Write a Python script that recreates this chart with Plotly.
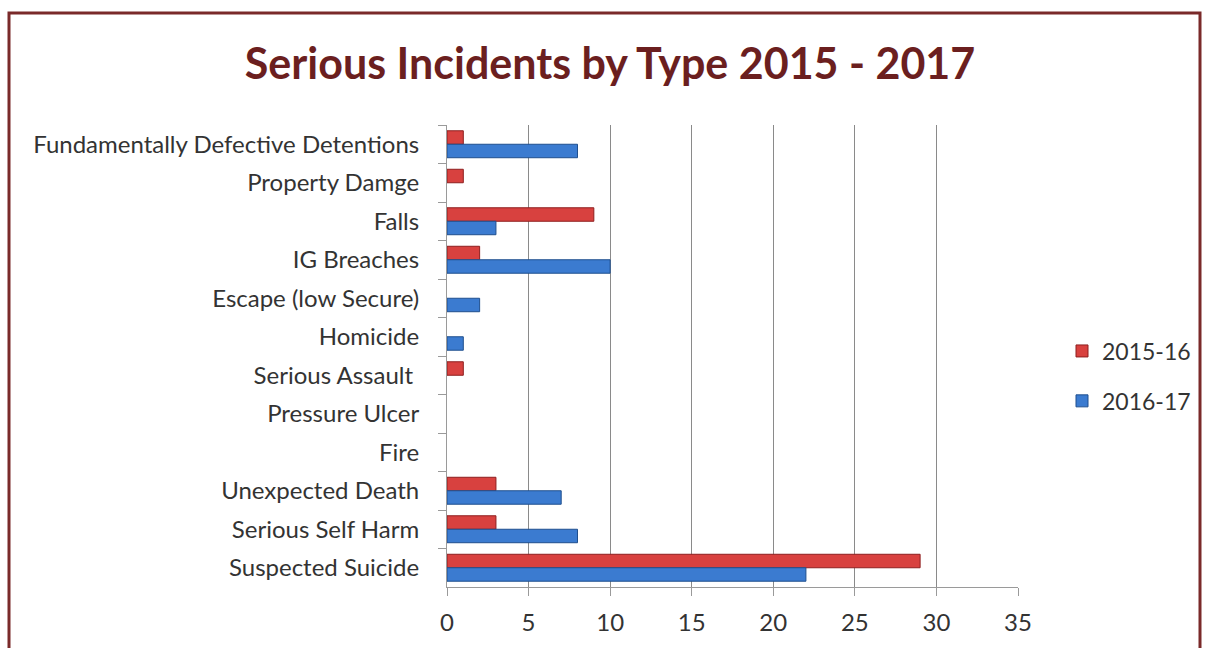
import plotly.graph_objects as go

# Incident categories, listed top to bottom as displayed
categories = [
    "Fundamentally Defective Detentions",
    "Property Damge",
    "Falls",
    "IG Breaches",
    "Escape (low Secure)",
    "Homicide",
    "Serious Assault ",
    "Pressure Ulcer",
    "Fire",
    "Unexpected Death",
    "Serious Self Harm",
    "Suspected Suicide",
]

counts_2015_16 = [1, 1, 9, 2, 0, 0, 1, 0, 0, 3, 3, 29]
counts_2016_17 = [8, 0, 3, 10, 2, 1, 0, 0, 0, 7, 8, 22]

x_ticks = [0, 5, 10, 15, 20, 25, 30, 35]

FONT = "Lato, 'Open Sans', sans-serif"
W, H = 1208, 648
L, R, T, B = 447, 190, 125, 61


def edge_widths(values):
    # no outline on empty bars so nothing shows at zero
    return [1 if v else 0 for v in values]


fig = go.Figure()
fig.add_trace(go.Bar(
    name="2015-16", legendgroup="a", y=categories, x=counts_2015_16, orientation="h",
    marker=dict(color="#d8413f",
                line=dict(color="#8e1f1f", width=edge_widths(counts_2015_16))),
))
fig.add_trace(go.Bar(
    name="2016-17", legendgroup="b", y=categories, x=counts_2016_17, orientation="h",
    marker=dict(color="#3b7bd0",
                line=dict(color="#1f4f8e", width=edge_widths(counts_2016_17))),
))

pw = W - L - R
ph = H - T - B
def px_to_paper_x(px):
    return (px - L) / pw
def px_to_paper_y(py):
    return (H - B - py) / ph

# Dark red frame around the whole chart
fig.add_shape(
    type="rect", xref="paper", yref="paper",
    x0=px_to_paper_x(9), x1=px_to_paper_x(1200),
    y0=px_to_paper_y(700), y1=px_to_paper_y(13),
    line=dict(color="#7a2a2a", width=3), fillcolor="rgba(0,0,0,0)",
    layer="below",
)

fig.update_layout(
    width=W, height=H,
    margin=dict(l=L, r=R, t=T, b=B),
    paper_bgcolor="white", plot_bgcolor="white",
    barmode="group", bargap=0.3, bargroupgap=0.0,
    title=dict(
        text="<b>Serious Incidents by Type 2015 - 2017</b>",
        x=0.505, xanchor="center", y=1 - 64 / H, yanchor="middle",
        font=dict(family=FONT, size=43, color="#6b1f1f"),
    ),
    font=dict(family=FONT, size=24, color="#333333"),
    legend=dict(
        x=px_to_paper_x(1062), xanchor="left",
        y=px_to_paper_y(376), yanchor="middle",
        font=dict(size=23, color="#333333"),
        itemwidth=30, tracegroupgap=17,
        bgcolor="rgba(0,0,0,0)",
    ),
    xaxis=dict(
        range=[0, 35], tickvals=x_ticks, showgrid=True,
        gridcolor="#8a8a8a", gridwidth=1, zeroline=False,
        showline=True, linecolor="#9a9a9a", linewidth=1,
        ticks="outside", ticklen=8, tickcolor="#9a9a9a",
        ticklabelstandoff=6,
        tickfont=dict(size=24, color="#333333"),
    ),
    yaxis=dict(
        autorange="reversed", showgrid=False, zeroline=False,
        showline=True, linecolor="#9a9a9a", linewidth=1,
        ticks="outside", ticklen=8, tickcolor="#9a9a9a",
        tickson="boundaries", ticklabelstandoff=22,
        tickfont=dict(size=24, color="#333333"),
    ),
)

fig.write_html("out.html")
